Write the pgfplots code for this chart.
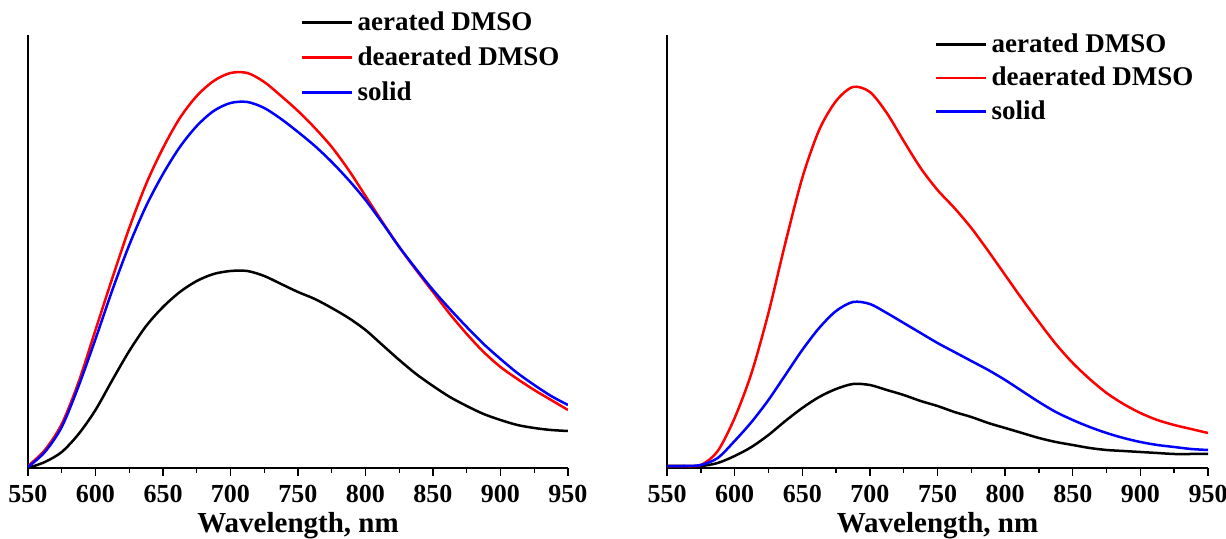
\documentclass[border=0pt]{standalone}
\usepackage{fontspec}
\setmainfont{Liberation Serif}
\usepackage{pgfplots}
\pgfplotsset{compat=1.18}

\pgfplotsset{
  spec/.style={
    scale only axis, width=270pt, height=216.5pt,
    xmin=550, xmax=950, ymin=0, ymax=433,
    axis x line=bottom, axis y line=left,
    axis line style={-, line width=0.75pt},
    xtick={550,600,...,950}, minor x tick num=1,
    ytick=\empty, tick align=outside,
    major tick length=4pt, minor tick length=2.5pt,
    every tick/.style={black, line width=0.7pt},
    /pgf/number format/assume math mode=true,
    /pgf/number format/1000 sep={},
    ticklabel style={font=\bfseries\fontsize{13}{15}\selectfont},
    xticklabel style={yshift=-1pt},
    xlabel={Wavelength, nm},
    xlabel style={font=\bfseries\fontsize{14.5}{16}\selectfont, yshift=2pt},
    legend cell align=left,
    legend style={draw=none, fill=none, anchor=north west,
      font=\bfseries\fontsize{13.5}{15}\selectfont,
      row sep=2.6pt, inner sep=0pt},
    legend image code/.code={\draw[#1, line width=1.25pt, sharp plot] (0pt,0pt) -- (25pt,0pt);},
    every axis plot/.append style={line width=1.25pt, smooth},
  }
}

\begin{document}
\begin{tikzpicture}
\useasboundingbox (0,0) rectangle (613pt,269.5pt);

\begin{axis}[spec, at={(14pt,35.5pt)}, anchor=origin,
  legend style={at={(rel axis cs:0.505,1.064)}}]
\addplot[black] coordinates {(550,0) (562.5,6) (575,16) (587.5,34) (600,58) (612.5,88) (625,117) (637.5,142) (650,161) (662.5,176) (675,187) (687.5,194) (700,197) (712.5,197) (725,192) (737.5,184) (750,176) (762.5,169) (775,160) (787.5,150) (800,138) (812.5,123) (825,108) (837.5,94) (850,82) (862.5,71) (875,62) (887.5,54) (900,48) (912.5,43) (925,40) (937.5,38) (950,37)};
\addplot[red] coordinates {(550,2) (562.5,18) (575,44) (587.5,86) (600,138) (612.5,190) (625,240) (637.5,284) (650,320) (662.5,350) (675,372) (687.5,387) (700,395) (712.5,395) (725,386) (737.5,372) (750,357) (762.5,340) (775,321) (787.5,298) (800,272) (812.5,246) (825,221) (837.5,198) (850,176) (862.5,154) (875,134) (887.5,116) (900,101) (912.5,89) (925,78) (937.5,68) (950,58)};
\addplot[blue] coordinates {(550,1) (562.5,16) (575,41) (587.5,82) (600,129) (612.5,178) (625,223) (637.5,262) (650,294) (662.5,321) (675,342) (687.5,357) (700,365) (712.5,366) (725,360) (737.5,349) (750,336) (762.5,322) (775,306) (787.5,288) (800,268) (812.5,245) (825,221) (837.5,199) (850,178) (862.5,159) (875,141) (887.5,124) (900,109) (912.5,95) (925,83) (937.5,72) (950,63)};
\legend{aerated DMSO, deaerated DMSO, solid}
\end{axis}

\begin{axis}[spec, at={(333.5pt,35.5pt)}, anchor=origin, width=270.5pt,
  legend style={at={(rel axis cs:0.495,1.013)}, row sep=1.8pt}]
\addplot[black] coordinates {(550,2) (562.5,2) (575,2) (587.5,5) (600,12) (612.5,21) (625,33) (637.5,47) (650,60) (662.5,71) (675,79) (687.5,84) (700,83) (712.5,78) (725,73) (737.5,67) (750,62) (762.5,56) (775,51) (787.5,45) (800,40) (812.5,35) (825,30) (837.5,26) (850,23) (862.5,20) (875,18) (887.5,17) (900,16) (912.5,15) (925,14) (937.5,14) (950,14)};
\addplot[red] coordinates {(550,2) (562.5,2) (575,3) (587.5,17) (600,50) (612.5,95) (625,155) (637.5,225) (650,290) (662.5,338) (675,367) (687.5,381) (700,376) (712.5,355) (725,327) (737.5,300) (750,278) (762.5,260) (775,240) (787.5,217) (800,193) (812.5,169) (825,146) (837.5,124) (850,105) (862.5,89) (875,75) (887.5,64) (900,55) (912.5,48) (925,43) (937.5,39) (950,35)};
\addplot[blue] coordinates {(550,2) (562.5,2) (575,3) (587.5,10) (600,27) (612.5,46) (625,68) (637.5,93) (650,118) (662.5,140) (675,157) (687.5,166) (700,164) (712.5,155) (725,145) (737.5,135) (750,125) (762.5,116) (775,107) (787.5,98) (800,88) (812.5,77) (825,66) (837.5,56) (850,48) (862.5,41) (875,35) (887.5,30) (900,26) (912.5,23) (925,21) (937.5,19) (950,18)};
\legend{aerated DMSO, deaerated DMSO, solid}
\end{axis}
\end{tikzpicture}
\end{document}
